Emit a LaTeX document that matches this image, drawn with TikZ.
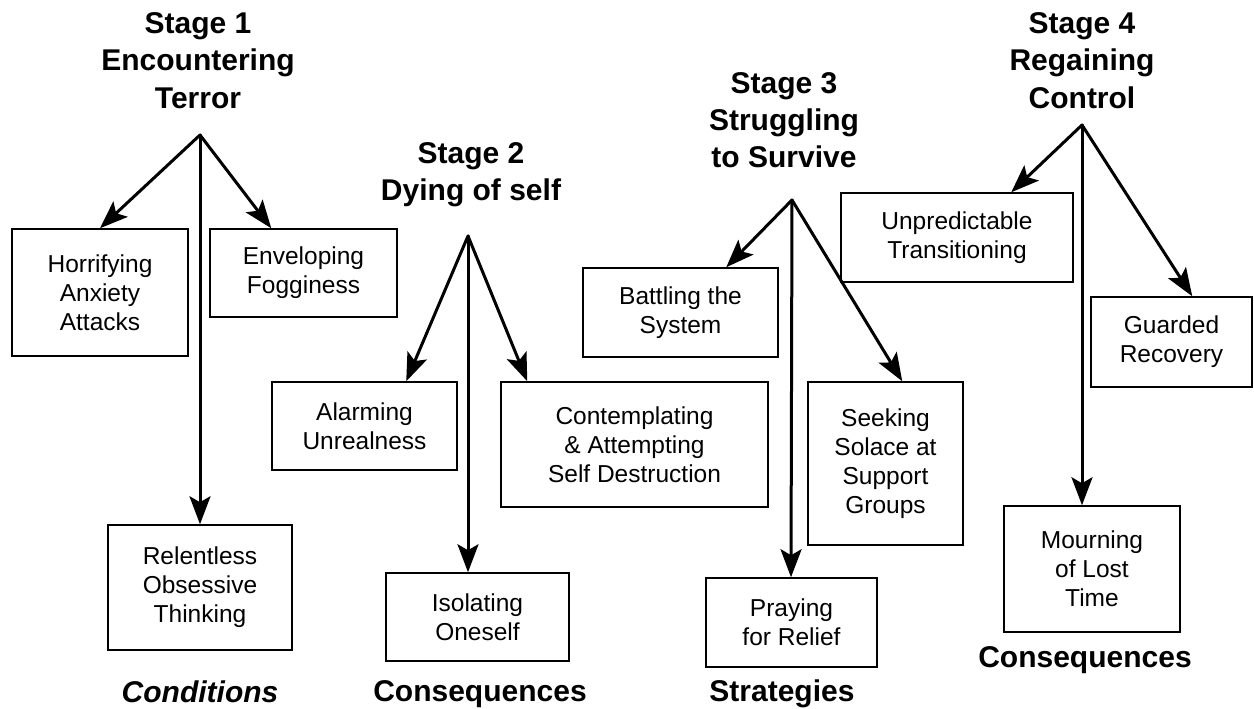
\documentclass[tikz,border=0pt]{standalone}
\usepackage{fontspec}
\setmainfont{Liberation Sans}
\usetikzlibrary{arrows.meta}
\begin{document}
\begin{tikzpicture}[x=1pt,y=-1pt,
  box/.style={draw, line width=1.5pt, inner sep=0pt, align=center, font=\fontsize{24.5}{29}\selectfont},
  ttl/.style={align=center, inner sep=0pt, anchor=base, font=\fontsize{30}{37}\selectfont\bfseries},
  lbl/.style={inner sep=0pt, anchor=base, font=\fontsize{30}{37}\selectfont\bfseries},
  arr/.style={line width=3pt, line cap=round, -{Stealth[length=28pt,width=21pt,inset=6pt]}}]
\useasboundingbox (0,0) rectangle (1254,709);

% titles (anchored at baseline of last line)
\node[ttl] (t1) at (198,108) {Stage 1\\Encountering\\Terror};
\node[ttl] (t2) at (471,200) {Stage 2\\Dying of self};
\node[ttl] (t3) at (784,167) {Stage 3\\Struggling\\to Survive};
\node[ttl] (t4) at (1082,108) {Stage 4\\Regaining\\Control};

% apex points
\coordinate (a1) at (200,135);
\coordinate (a2) at (468,236);
\coordinate (a3) at (792,200);
\coordinate (a4) at (1082,125);

% boxes
\node[box, minimum width=176pt, minimum height=127pt] (horr) at (100,292.5) {Horrifying\\Anxiety\\Attacks};
\node[box, minimum width=187pt, minimum height=88pt] (env) at (303.5,273) {Enveloping\\Fogginess};
\node[box, minimum width=184pt, minimum height=125pt] (rel) at (200,587.5) {Relentless\\Obsessive\\Thinking};
\node[box, minimum width=185pt, minimum height=88pt] (alarm) at (364.5,426) {Alarming\\Unrealness};
\node[box, minimum width=267pt, minimum height=125pt] (cont) at (634.5,444.5) {Contemplating\\\&~Attempting\\Self Destruction};
\node[box, minimum width=183pt, minimum height=88pt] (isol) at (477.5,617) {Isolating\\Oneself};
\node[box, minimum width=195pt, minimum height=89pt] (batt) at (680.5,312.5) {Battling the\\System};
\node[box, minimum width=155pt, minimum height=163pt] (seek) at (885.5,463.5) {Seeking\\Solace at\\Support\\Groups};
\node[box, minimum width=171pt, minimum height=89pt] (pray) at (791.5,622.5) {Praying\\for Relief};
\node[box, minimum width=232pt, minimum height=89pt] (unp) at (957,237.5) {Unpredictable\\Transitioning};
\node[box, minimum width=161pt, minimum height=90pt] (guard) at (1171.5,342) {Guarded\\Recovery};
\node[box, minimum width=176pt, minimum height=126pt] (mourn) at (1092,569) {Mourning\\of Lost\\Time};

% arrows
\draw[arr] (a1) -- (horr.north);
\draw[arr] (a1) -- ([xshift=62pt]env.north west);
\draw[arr] (a1) -- (rel.north);

\draw[arr] (a2) -- ([xshift=135pt]alarm.north west);
\draw[arr] (a2) -- ([xshift=27pt]cont.north west);
\draw[arr] (a2) -- ([xshift=-9.5pt]isol.north);

\draw[arr] (a3) -- ([xshift=144pt]batt.north west);
\draw[arr] (a3) -- ([xshift=95pt]seek.north west);
\draw[arr] (a3) -- ([xshift=-0.5pt]pray.north);

\draw[arr] (a4) -- ([xshift=171pt]unp.north west);
\draw[arr] (a4) -- ([xshift=102pt]guard.north west);
\draw[arr] (a4) -- ([xshift=-10pt]mourn.north);

% bottom labels
\node[lbl, font=\fontsize{30}{37}\selectfont\bfseries\itshape] (l1) at (200,702) {Conditions};
\node[lbl] (l2) at (480,701) {Consequences};
\node[lbl] (l3) at (782,701) {Strategies};
\node[lbl] (l4) at (1085,667) {Consequences};
\end{tikzpicture}
\end{document}
